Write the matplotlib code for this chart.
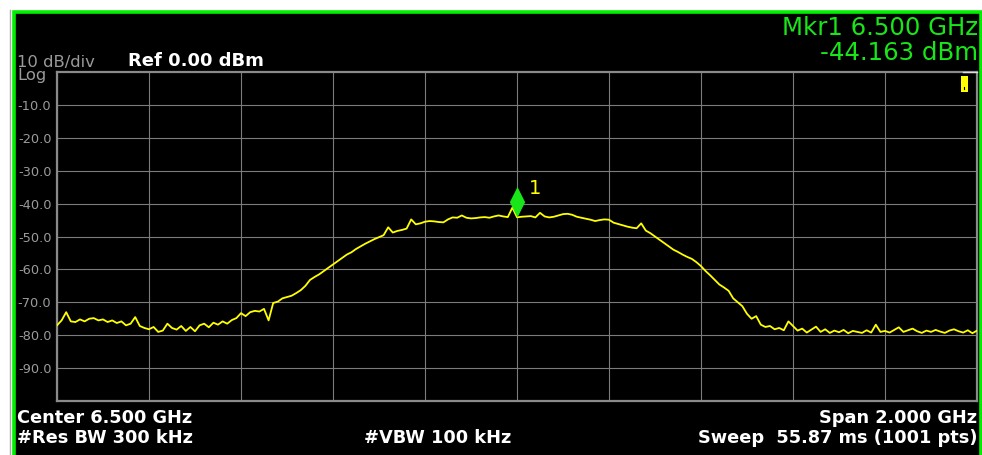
import numpy as np
import matplotlib
matplotlib.use("Agg")
import matplotlib.pyplot as plt
from matplotlib.patches import Rectangle
from matplotlib.path import Path
from matplotlib.lines import Line2D

# ---------------- data ----------------
center_ghz = 6.5
span_ghz = 2.0
ref_level = 0.0
db_per_div = 10
y_ticks = [-10, -20, -30, -40, -50, -60, -70, -80, -90]
y_tick_labels = ["-10.0", "-20.0", "-30.0", "-40.0", "-50.0",
                 "-60.0", "-70.0", "-80.0", "-90.0"]

# trace amplitude (dBm), sampled every 0.01 GHz from 5.50 to 7.50 GHz
trace_dbm = [
    -77.0, -75.5, -73.0, -75.8, -76.0, -75.2, -75.8, -75.0, -74.8, -75.5,
    -75.2, -76.0, -75.5, -76.3, -75.8, -77.0, -76.5, -74.5, -77.2, -77.8,
    -78.2, -77.5, -79.0, -78.6, -76.5, -77.8, -78.3, -77.2, -78.7, -77.5,
    -78.8, -77.0, -76.5, -77.6, -76.2, -76.8, -75.8, -76.5, -75.4, -74.8,
    -73.3, -74.2, -73.0, -72.6, -72.8, -72.0, -75.5, -70.2, -69.8, -68.8,
    -68.4, -68.0, -67.2, -66.3, -65.0, -63.2, -62.3, -61.5, -60.5, -59.5,
    -58.5, -57.5, -56.5, -55.5, -54.8, -53.8, -53.0, -52.2, -51.5, -50.8,
    -50.2, -49.6, -47.2, -48.8, -48.3, -48.0, -47.6, -44.8, -46.3, -46.0,
    -45.5, -45.3, -45.4, -45.6, -45.7, -44.8, -44.2, -44.3, -43.6, -44.3,
    -44.5, -44.4, -44.2, -44.1, -44.3, -43.9, -43.6, -43.9, -44.1, -41.2,
    -44.163, -44.0, -43.9, -43.8, -44.2, -42.8, -43.9, -44.2, -44.0, -43.6,
    -43.2, -43.1, -43.4, -44.0, -44.3, -44.6, -44.9, -45.3, -45.0, -44.8,
    -44.9, -45.8, -46.2, -46.6, -47.0, -47.3, -47.5, -46.0, -48.2, -49.0,
    -50.0, -51.0, -52.0, -53.0, -54.0, -54.7, -55.5, -56.2, -56.8, -57.8,
    -59.0, -60.5, -61.8, -63.2, -64.6, -65.5, -66.5, -68.8, -70.0, -71.2,
    -73.5, -75.0, -74.2, -76.8, -77.5, -77.2, -78.2, -77.8, -78.5, -75.8,
    -77.2, -78.6, -78.0, -79.2, -78.3, -77.4, -79.0, -78.2, -79.3, -78.6,
    -79.1, -78.4, -79.4, -78.7, -79.0, -79.3, -78.5, -79.2, -76.8, -79.0,
    -78.7, -79.2, -78.4, -77.6, -79.0, -78.5, -78.0, -78.8, -79.3, -78.6,
    -79.0, -78.4, -78.9, -79.3, -78.6, -78.2, -78.8, -79.2, -78.5, -79.4,
    -78.6,
]

marker_freq = 6.5
marker_amp = -44.163
marker_label = "1"

# ---------------- figure ----------------
W, H = 982, 455
fig = plt.figure(figsize=(W / 100, H / 100), dpi=100, facecolor="white")


def fx(px):
    return px / W


def fy(py):
    return 1 - py / H


# window edge (thin gray line) and green framed black panel
fig.add_artist(Line2D([fx(10), fx(10)], [fy(10), fy(460)], color="#A8A8A8",
                      lw=1.0, transform=fig.transFigure))
fig.add_artist(Rectangle((fx(13.5), fy(470)), fx(980.8) - fx(13.5), fy(12) - fy(470),
                         transform=fig.transFigure, facecolor="black",
                         edgecolor="#00F000", lw=2.6, zorder=0))

ax = fig.add_axes([fx(57), fy(401), fx(977) - fx(57), fy(72) - fy(401)])
ax.set_facecolor("black")

freqs = np.linspace(center_ghz - span_ghz / 2, center_ghz + span_ghz / 2, len(trace_dbm))
ax.plot(freqs, trace_dbm, color="#FFFF00", lw=1.3, zorder=3)

ax.set_xlim(center_ghz - span_ghz / 2, center_ghz + span_ghz / 2)
ax.set_ylim(ref_level - 10 * db_per_div, ref_level)
ax.set_xticks(np.linspace(center_ghz - span_ghz / 2, center_ghz + span_ghz / 2, 11))
ax.set_xticklabels([])
ax.set_yticks(y_ticks)
ax.set_yticklabels(y_tick_labels)
ax.tick_params(axis="both", length=0)
ax.tick_params(axis="y", colors="#9A9A9A", labelsize=9.4, pad=4)
ax.grid(True, color="#7C7C7C", lw=0.8)
ax.set_axisbelow(True)
for s in ax.spines.values():
    s.set_color("#8A8A8A")
    s.set_linewidth(1.6)

# marker diamond (bottom tip on the trace point)
diamond = Path([(0, 0), (0.5, 1), (0, 2), (-0.5, 1), (0, 0)],
               [Path.MOVETO, Path.LINETO, Path.LINETO, Path.LINETO, Path.CLOSEPOLY])
ax.plot([marker_freq], [marker_amp], marker=diamond, markersize=44,
        color="#19E619", markeredgewidth=0, zorder=5, clip_on=False)
ax.annotate(marker_label, (marker_freq, marker_amp), xytext=(8.5, 16.5),
            textcoords="offset points", color="#FFFF00", fontsize=14,
            ha="left", va="baseline")

# small yellow status icon top right
ax.add_patch(Rectangle((0.9826, 0.939), 0.0076, 0.049, transform=ax.transAxes,
                       facecolor="#FFFF00", edgecolor="none", zorder=6))
ax.plot([0.9864, 0.9864], [0.955, 0.948], color="black", lw=0.8,
        transform=ax.transAxes, zorder=7)
ax.plot([0.985, 0.9995], [1.0, 1.0], color="#DDDDDD", lw=1.0,
        transform=ax.transAxes, zorder=7, clip_on=False)

# header texts
fig.text(fx(17), fy(66.5), "10 dB/div", color="#9A9A9A", fontsize=11.8, va="baseline")
fig.text(fx(17), fy(80), "Log", color="#9A9A9A", fontsize=11.8, va="baseline")
fig.text(fx(128), fy(66), "Ref 0.00 dBm", color="white", fontsize=13,
         fontweight="bold", va="baseline")
fig.text(fx(978), fy(35), "Mkr1 6.500 GHz", color="#19E619", fontsize=17.6,
         ha="right", va="baseline")
fig.text(fx(978), fy(60), "-44.163 dBm", color="#19E619", fontsize=17.6,
         ha="right", va="baseline")

# footer texts
fig.text(fx(17), fy(423), "Center 6.500 GHz", color="white", fontsize=12.8,
         fontweight="bold", va="baseline")
fig.text(fx(17), fy(443), "#Res BW 300 kHz", color="white", fontsize=12.8,
         fontweight="bold", va="baseline")
fig.text(fx(364), fy(443), "#VBW 100 kHz", color="white", fontsize=12.8,
         fontweight="bold", va="baseline")
fig.text(fx(977), fy(423), "Span 2.000 GHz", color="white", fontsize=12.8,
         fontweight="bold", ha="right", va="baseline")
fig.text(fx(977), fy(443), "Sweep  55.87 ms (1001 pts)", color="white", fontsize=12.8,
         fontweight="bold", ha="right", va="baseline")

fig.savefig("out.png", dpi=100, facecolor="white")
